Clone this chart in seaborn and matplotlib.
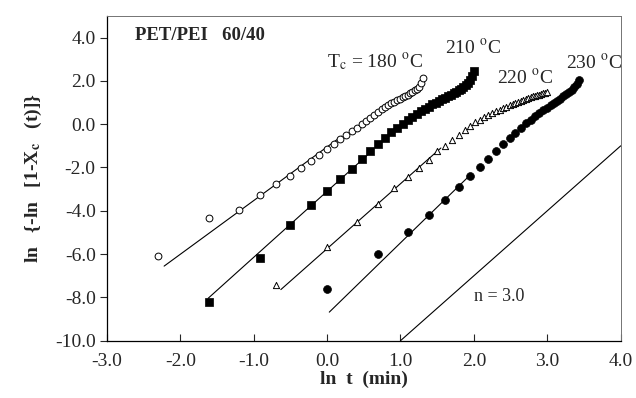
import numpy as np
import pandas as pd
import matplotlib
matplotlib.use("Agg")
import matplotlib.pyplot as plt
import seaborn as sns
from matplotlib.ticker import FormatStrFormatter

# ln t values (min) and ln{-ln[1-Xc(t)]} for each crystallisation temperature
lnt_180 = [-2.303, -1.609, -1.204, -0.916, -0.693, -0.511, -0.357, -0.223, -0.105, 0.000,
           0.095, 0.182, 0.262, 0.336, 0.405, 0.470, 0.531, 0.588, 0.642, 0.693,
           0.742, 0.788, 0.833, 0.875, 0.916, 0.956, 0.993, 1.030, 1.065, 1.099,
           1.131, 1.163, 1.194, 1.224, 1.253, 1.281, 1.308]
y_180 = [-6.09, -4.32, -3.96, -3.27, -2.77, -2.38, -2.02, -1.70, -1.42, -1.14,
         -0.92, -0.70, -0.51, -0.33, -0.17, -0.01, 0.14, 0.29, 0.44, 0.58,
         0.69, 0.79, 0.88, 0.96, 1.03, 1.10, 1.17, 1.24, 1.30, 1.36,
         1.42, 1.49, 1.56, 1.64, 1.74, 1.88, 2.12]

lnt_210 = [-1.609, -0.916, -0.511, -0.223, 0.000, 0.182, 0.336, 0.470, 0.588, 0.693,
           0.788, 0.875, 0.956, 1.030, 1.099, 1.163, 1.224, 1.281, 1.335, 1.386,
           1.435, 1.482, 1.526, 1.569, 1.609, 1.649, 1.686, 1.723, 1.758, 1.792,
           1.825, 1.856, 1.887, 1.917, 1.946, 1.974, 2.001]
y_210 = [-8.21, -6.17, -4.64, -3.75, -3.10, -2.55, -2.05, -1.62, -1.22, -0.92,
         -0.63, -0.38, -0.16, 0.03, 0.20, 0.35, 0.48, 0.60, 0.71, 0.81,
         0.91, 1.00, 1.08, 1.15, 1.22, 1.29, 1.36, 1.43, 1.50, 1.57,
         1.64, 1.72, 1.81, 1.92, 2.05, 2.22, 2.45]

lnt_220 = [-0.693, 0.000, 0.405, 0.693, 0.916, 1.099, 1.253, 1.386, 1.504, 1.609,
           1.705, 1.792, 1.872, 1.946, 2.015, 2.079, 2.140, 2.197, 2.251, 2.303,
           2.351, 2.398, 2.442, 2.485, 2.526, 2.565, 2.603, 2.639, 2.674, 2.708,
           2.741, 2.773, 2.803, 2.833, 2.862, 2.890, 2.918, 2.944, 2.970, 2.996]
y_220 = [-7.43, -5.66, -4.53, -3.69, -2.96, -2.45, -2.03, -1.65, -1.26, -1.00,
         -0.72, -0.49, -0.29, -0.08, 0.08, 0.20, 0.32, 0.42, 0.51, 0.59,
         0.67, 0.74, 0.81, 0.87, 0.93, 0.98, 1.03, 1.08, 1.12, 1.16,
         1.20, 1.24, 1.28, 1.31, 1.34, 1.37, 1.40, 1.43, 1.46, 1.48]

lnt_230 = [0.000, 0.693, 1.099, 1.386, 1.609, 1.792, 1.946, 2.079, 2.197, 2.303,
           2.398, 2.485, 2.565, 2.639, 2.708, 2.773, 2.833, 2.890, 2.944, 2.996,
           3.045, 3.091, 3.135, 3.178, 3.219, 3.258, 3.296, 3.332, 3.367, 3.401,
           3.434]
y_230 = [-7.63, -6.01, -5.00, -4.19, -3.48, -2.91, -2.38, -1.98, -1.60, -1.23,
         -0.91, -0.64, -0.39, -0.17, 0.04, 0.21, 0.37, 0.51, 0.64, 0.76,
         0.87, 0.98, 1.08, 1.18, 1.28, 1.38, 1.49, 1.60, 1.72, 1.87,
         2.06]

# Avrami fit lines (slope n, intercept ln k, x range)
temps = [180, 210, 220, 230]
fit_n = [2.48, 3.05, 3.0, 3.3]
fit_lnk = [-1.05, -3.1, -5.75, -8.78]
fit_x0 = [-2.22, -1.62, -0.63, 0.03]
fit_x1 = [0.2, 0.6, 1.55, 1.95]

# reference slope line n = 3.0
ref_x = [1.0, 4.0]
ref_y = [-10.0, -1.0]

labels = ["T$_{\\rm c}$ = 180 $^{\\rm o}$C", "210 $^{\\rm o}$C", "220 $^{\\rm o}$C", "230 $^{\\rm o}$C"]
label_x = [0.65, 1.99, 2.69, 3.64]
label_y = [2.84, 3.54, 2.15, 2.84]

sns.set_theme(style="ticks")
plt.rcParams["font.family"] = ["Liberation Serif", "DejaVu Serif"]
plt.rcParams["mathtext.fontset"] = "stix"
plt.rcParams["axes.unicode_minus"] = False

df = pd.concat([
    pd.DataFrame({"lnt": lnt_180, "y": y_180, "T": 180}),
    pd.DataFrame({"lnt": lnt_210, "y": y_210, "T": 210}),
    pd.DataFrame({"lnt": lnt_220, "y": y_220, "T": 220}),
    pd.DataFrame({"lnt": lnt_230, "y": y_230, "T": 230}),
])

fig = plt.figure(figsize=(6.36, 3.98), dpi=100)
ax = fig.add_axes([0.168, 0.144, 0.808, 0.816])

# fitted lines
for n, lnk, x0, x1 in zip(fit_n, fit_lnk, fit_x0, fit_x1):
    xs = np.array([x0, x1])
    sns.lineplot(x=xs, y=n * xs + lnk, ax=ax, color="black", linewidth=0.8)
sns.lineplot(x=ref_x, y=ref_y, ax=ax, color="black", linewidth=0.8)

styles = {
    180: dict(marker="o", s=24, facecolor="white", edgecolor="black", linewidth=0.7),
    210: dict(marker="s", s=36, facecolor="black", edgecolor="black", linewidth=0.5),
    220: dict(marker="^", s=20, facecolor="white", edgecolor="black", linewidth=0.7),
    230: dict(marker="o", s=32, facecolor="black", edgecolor="black", linewidth=0.5),
}
for t in temps:
    sub = df[df["T"] == t]
    sns.scatterplot(data=sub, x="lnt", y="y", ax=ax, zorder=3, **styles[t])

for lab, lx, ly in zip(labels, label_x, label_y):
    ax.text(lx, ly, lab, ha="center", va="center", fontsize=14)
ax.text(2.35, -7.95, "n = 3.0", ha="center", va="center", fontsize=13)
ax.text(-2.62, 4.1, "PET/PEI   60/40", ha="left", va="center", fontsize=13.5, fontweight="bold")

ax.set_xlim(-3.0, 4.0)
ax.set_ylim(-10.0, 5.0)
ax.set_xticks(np.arange(-3, 4.01, 1.0))
ax.set_yticks(np.arange(-10, 4.01, 2.0))
ax.xaxis.set_major_formatter(FormatStrFormatter("%.1f"))
ax.yaxis.set_major_formatter(FormatStrFormatter("%.1f"))
ax.tick_params(axis="x", direction="in", length=5, width=0.8, labelsize=14, pad=9)
ax.tick_params(axis="y", direction="out", length=5, width=0.8, labelsize=14, pad=3)
ax.set_xlabel("ln  t  (min)", fontsize=14, fontweight="bold", labelpad=0)
ax.set_ylabel("ln   {-ln   [1-X$_\\mathbf{c}$   (t)]}", fontsize=14, fontweight="bold", labelpad=8)
for side in ["left", "bottom"]:
    ax.spines[side].set_color("black")
    ax.spines[side].set_linewidth(0.9)
for side in ["top", "right"]:
    ax.spines[side].set_color("0.45")
    ax.spines[side].set_linewidth(0.7)

fig.savefig("out.png", dpi=100)
